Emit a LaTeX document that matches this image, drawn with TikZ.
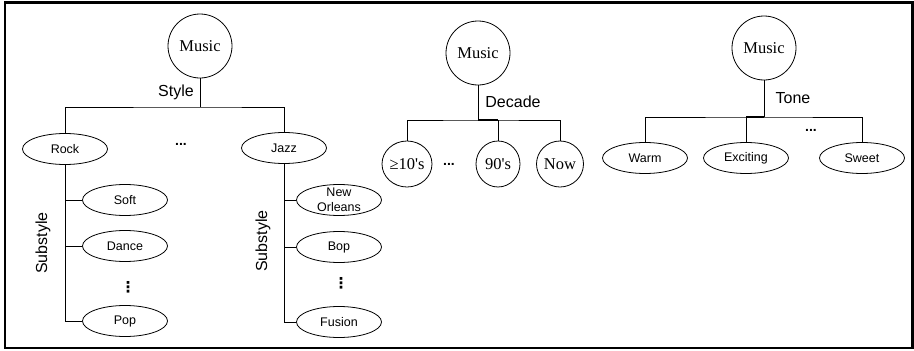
\documentclass[tikz,border=0pt]{standalone}
\usepackage{fontspec}
\setmainfont{Liberation Serif}
\setsansfont{Liberation Sans}
\newfontfamily\djvfont{DejaVu Sans}
\usetikzlibrary{shapes.geometric}
\tikzset{
  ln/.style={line width=0.8pt},
  music/.style={circle, draw, line width=0.8pt, minimum size=64pt, inner sep=0pt,
    font=\rmfamily\fontsize{16.5}{18}\selectfont},
  dec/.style={ellipse, draw, line width=0.8pt, minimum height=46pt, inner sep=0pt,
    font=\rmfamily\fontsize{16.5}{18}\selectfont},
  leaf/.style={ellipse, draw, line width=0.8pt, minimum width=85pt, minimum height=31pt,
    inner sep=0pt, font=\sffamily\fontsize{12.5}{14}\selectfont},
  lab/.style={inner sep=0pt, font=\sffamily\fontsize{16}{18}\selectfont},
  hdots/.style={inner sep=0pt, font=\sffamily\bfseries\fontsize{14}{16}\selectfont},
  vdotsn/.style={inner sep=0pt, font=\djvfont\bfseries\fontsize{15}{16}\selectfont}
}
\begin{document}
\begin{tikzpicture}[x=1pt,y=-1pt]
\useasboundingbox (0,0) rectangle (914,351);
\draw[line width=2.5pt] (5,2.5) rectangle (912.5,348);

% ---------- Tree 1: Style ----------
\node[music] (m1) at (200,46) {Music};
\coordinate (b1) at (200,107);
\node[leaf] (rock) at (65,149) {Rock};
\node[leaf] (jazz) at (284,148) {Jazz};
\node[lab] (style) at (176,92) {Style};
\node[hdots] (dots1) at (181,144) {...};
\draw[ln] (m1.south) -- (b1);
\draw[ln] (rock.north) |- (b1) -| (jazz.north);

\node[leaf] (soft) at (125,200) {Soft};
\node[leaf] (dance) at (125,246) {Dance};
\node[vdotsn] (vd1) at (128,287) {⋮};
\node[leaf] (pop) at (125,321) {Pop};
\node[lab, rotate=90] (sub1) at (43,243) {Substyle};
\draw[ln] (rock.south) |- (soft.west);
\draw[ln] (rock.south) |- (dance.west);
\draw[ln] (rock.south) |- (pop.west);

\node[leaf, label={[align=center, inner sep=0pt, font=\sffamily\fontsize{12.5}{15}\selectfont]center:New\\Orleans}] (newo) at (339,200) {};
\node[leaf] (bop) at (339,247) {Bop};
\node[vdotsn] (vd2) at (341,283) {⋮};
\node[leaf] (fusion) at (339,322) {Fusion};
\node[lab, rotate=90] (sub2) at (263,241) {Substyle};
\draw[ln] (jazz.south) |- (newo.west);
\draw[ln] (jazz.south) |- (bop.west);
\draw[ln] (jazz.south) |- (fusion.west);

% ---------- Tree 2: Decade ----------
\node[music] (m2) at (478,53) {Music};
\coordinate (b2) at (478,120);
\node[lab] (decade) at (513,102) {Decade};
\node[dec, minimum width=50pt] (c10) at (407,164) {≥10\textquotesingle s};
\node[hdots] (dots2) at (449,164) {...};
\node[dec, minimum width=44pt] (c90) at (498,164) {90\textquotesingle s};
\node[dec, minimum width=47pt] (cnow) at (560,164) {Now};
\draw[ln] (m2.south) -- (b2);
\draw[ln] (c10.north) |- (b2) -| (cnow.north);
\draw[ln] (c90.north) -- (c90.north |- b2);
\draw[line width=1.6pt] (b2) -- (c90.north |- b2);

% ---------- Tree 3: Tone ----------
\node[music] (m3) at (764,48) {Music};
\coordinate (b3) at (764,117);
\node[lab] (tone) at (793,98) {Tone};
\node[leaf] (warm) at (645,158) {Warm};
\node[leaf] (exc) at (746,158) {Exciting};
\node[hdots] (dots3) at (811,130) {...};
\node[leaf] (sweet) at (862,158) {Sweet};
\draw[ln] (m3.south) -- (b3);
\draw[ln] (warm.north) |- (b3) -| (sweet.north);
\draw[ln] (exc.north) -- (exc.north |- b3);
\draw[line width=1.6pt] (b3) -- (exc.north |- b3);
\end{tikzpicture}
\end{document}
